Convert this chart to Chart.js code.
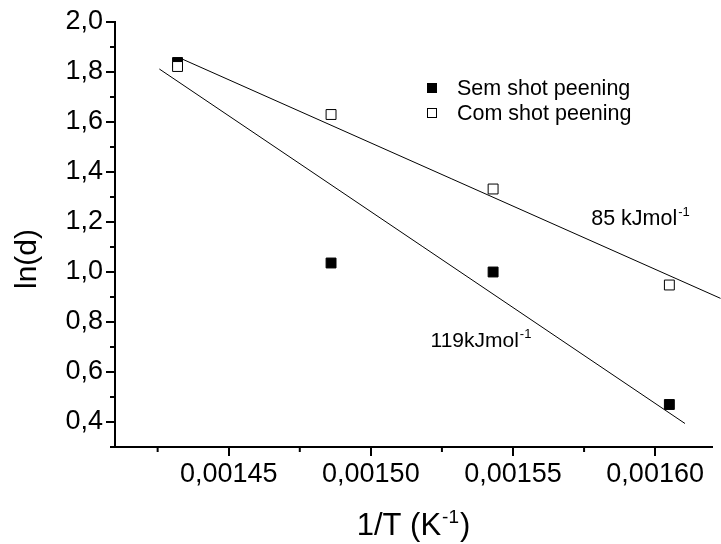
<!DOCTYPE html>
<html>
<head>
<meta charset="utf-8">
<script src="https://cdn.jsdelivr.net/npm/chart.js@4.4.1/dist/chart.umd.min.js"></script>
<style>
  body { margin: 0; background: #fff; }
  canvas { display: block; }
</style>
</head>
<body>
<canvas id="chart" width="721" height="544"></canvas>
<script>
const FONT = "'Liberation Sans', Arial, sans-serif";

// tick values
const xTicks = [0.00145, 0.0015, 0.00155, 0.0016];
const xMinorTicks = [0.001425, 0.001475, 0.001525, 0.001575];
const yTicks = [0.4, 0.6, 0.8, 1.0, 1.2, 1.4, 1.6, 1.8, 2.0];
const yMinorTicks = [0.3, 0.5, 0.7, 0.9, 1.1, 1.3, 1.5, 1.7, 1.9];

// measured points, 1/T vs ln(d)
const invT = [0.001432, 0.001486, 0.001543, 0.001605];
const semShot = [1.838, 1.036, 1.0, 0.47];
const comShot = [1.822, 1.63, 1.332, 0.948];

// fitted lines (end points)
const semFitX = [0.0014256, 0.0016105];
const semFitY = [1.812, 0.394];
const comFitX = [0.0014335, 0.001623];
const comFitY = [1.8525, 0.8946];

const seriesNames = ["Sem shot peening", "Com shot peening"];
const energyLabels = ["85 kJmol", "119kJmol"];

const pts = (xs, ys) => xs.map((x, i) => ({ x: x, y: ys[i] }));
const commaFmt = (v, d) => v.toFixed(d).replace(".", ",");

function textSup(ctx, x, y, main, sup, size, supSize, rise, tail) {
    ctx.textAlign = "left";
    ctx.textBaseline = "alphabetic";
    ctx.font = size + "px " + FONT;
    ctx.fillText(main, x, y);
    let w = ctx.measureText(main).width;
    ctx.font = supSize + "px " + FONT;
    ctx.fillText(sup, x + w + 1, y - rise);
    w += ctx.measureText(sup).width + 1;
    if (tail) {
        ctx.font = size + "px " + FONT;
        ctx.fillText(tail, x + w + 1, y);
        w += ctx.measureText(tail).width + 1;
    }
    return w;
}

const extras = {
    id: "extras",
    afterDraw(chart) {
        const ctx = chart.ctx;
        const xs = chart.scales.x, ys = chart.scales.y;
        const area = chart.chartArea;
        ctx.save();
        ctx.strokeStyle = "#000";
        ctx.fillStyle = "#000";
        ctx.lineWidth = 2;

        // minor ticks
        ctx.beginPath();
        yMinorTicks.forEach(v => {
            const p = ys.getPixelForValue(v);
            ctx.moveTo(area.left - 5, p);
            ctx.lineTo(area.left, p);
        });
        xMinorTicks.forEach(v => {
            const p = xs.getPixelForValue(v);
            ctx.moveTo(p, area.bottom);
            ctx.lineTo(p, area.bottom + 5);
        });
        ctx.stroke();

        // legend
        const lx = 432, ly = [88, 113];
        seriesNames.forEach((name, i) => {
            const ds = chart.data.datasets.find(d => d.label === name);
            ctx.lineWidth = 1;
            ctx.fillStyle = ds.backgroundColor;
            ctx.fillRect(lx - 5, ly[i] - 5, 10, 10);
            ctx.strokeRect(lx - 4.5, ly[i] - 4.5, 9, 9);
            ctx.fillStyle = "#000";
            ctx.font = "21.5px " + FONT;
            ctx.textAlign = "left";
            ctx.textBaseline = "middle";
            ctx.fillText(name, 457, ly[i] + 1);
        });

        // activation energy labels
        textSup(ctx, xs.getPixelForValue(0.0015775), ys.getPixelForValue(1.188),
            energyLabels[0], "-1", 21.5, 13, 9);
        textSup(ctx, xs.getPixelForValue(0.001521), ys.getPixelForValue(0.7006),
            energyLabels[1], "-1", 21, 13, 9);

        // axis titles
        ctx.font = "31px " + FONT;
        const w1 = textSup(ctx, -1000, -1000, "1/T (K", "-1", 31, 19, 12, ")");
        textSup(ctx, (area.left + area.right) / 2 - w1 / 2, 535, "1/T (K", "-1", 31, 19, 12, ")");

        ctx.translate(28, 259);
        ctx.rotate(-Math.PI / 2);
        ctx.font = "30px " + FONT;
        ctx.textAlign = "center";
        ctx.textBaseline = "middle";
        ctx.fillText("ln(d)", 0, 0);
        ctx.restore();
    }
};

const tickFont = { family: FONT, size: 27 };

new Chart(document.getElementById("chart"), {
    type: "scatter",
    data: {
        datasets: [
            {
                label: seriesNames[1],
                data: pts(invT, comShot),
                pointStyle: "rect",
                pointRadius: 7,
                pointBorderWidth: 1,
                backgroundColor: "#ffffff",
                borderColor: "#000000"
            },
            {
                label: seriesNames[0],
                data: pts(invT, semShot),
                pointStyle: "rect",
                pointRadius: 7,
                pointBorderWidth: 1,
                backgroundColor: "#000000",
                borderColor: "#000000"
            },
            {
                label: "fit com",
                data: pts(comFitX, comFitY),
                showLine: true,
                pointRadius: 0,
                borderWidth: 1,
                borderColor: "#000000",
                clip: false
            },
            {
                label: "fit sem",
                data: pts(semFitX, semFitY),
                showLine: true,
                pointRadius: 0,
                borderWidth: 1,
                borderColor: "#000000"
            }
        ]
    },
    options: {
        responsive: false,
        animation: false,
        layout: { padding: { top: 22, right: 9, left: 0, bottom: 0 } },
        plugins: {
            legend: { display: false },
            tooltip: { enabled: false }
        },
        scales: {
            x: {
                type: "linear",
                min: 0.00141,
                max: 0.00162,
                afterBuildTicks: s => { s.ticks = xTicks.map(v => ({ value: v })); },
                afterFit: s => { s.height = 97; },
                ticks: {
                    font: tickFont,
                    color: "#000",
                    padding: 2,
                    maxRotation: 0,
                    autoSkip: false,
                    callback: v => commaFmt(v, 5)
                },
                grid: { drawOnChartArea: false, drawTicks: true, tickLength: 9, lineWidth: 2, color: "#000" },
                border: { display: true, color: "#000", width: 2 }
            },
            y: {
                min: 0.3,
                max: 2.0,
                afterBuildTicks: s => { s.ticks = yTicks.map(v => ({ value: v })); },
                afterFit: s => { s.width = 115; },
                ticks: {
                    font: tickFont,
                    color: "#000",
                    padding: 3,
                    autoSkip: false,
                    callback: v => commaFmt(v, 1)
                },
                grid: { drawOnChartArea: false, drawTicks: true, tickLength: 9, lineWidth: 2, color: "#000" },
                border: { display: true, color: "#000", width: 2 }
            }
        }
    },
    plugins: [extras]
});
</script>
</body>
</html>
